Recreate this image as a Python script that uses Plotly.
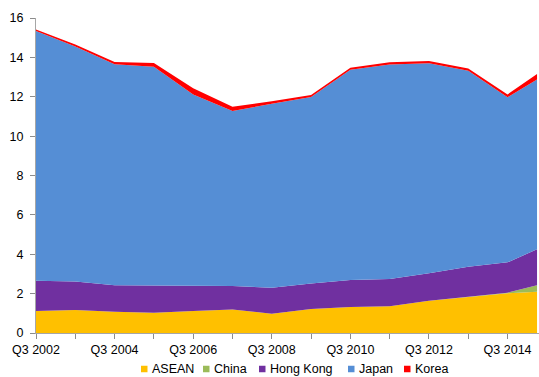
import plotly.graph_objects as go

# Quarter positions (years offset from Q3 2002); last point is Q2 2015
periods = ["Q3 2002", "Q3 2003", "Q3 2004", "Q3 2005", "Q3 2006", "Q3 2007", "Q3 2008",
           "Q3 2009", "Q3 2010", "Q3 2011", "Q3 2012", "Q3 2013", "Q3 2014", "Q2 2015"]
x_pos = [0, 1, 2, 3, 4, 5, 6, 7, 8, 9, 10, 11, 12, 12.75]

asean = [1.12, 1.17, 1.08, 1.03, 1.12, 1.20, 0.98, 1.22, 1.32, 1.36, 1.64, 1.84, 2.02, 2.10]
china = [0.0, 0.0, 0.0, 0.0, 0.0, 0.0, 0.0, 0.0, 0.0, 0.0, 0.0, 0.01, 0.03, 0.32]
hong_kong = [1.54, 1.44, 1.34, 1.39, 1.28, 1.19, 1.32, 1.30, 1.37, 1.38, 1.39, 1.52, 1.54, 1.83]
japan = [12.68, 11.94, 11.23, 11.11, 9.72, 8.88, 9.35, 9.47, 10.68, 10.90, 10.67, 9.95, 8.38, 8.63]
korea = [0.08, 0.10, 0.11, 0.18, 0.31, 0.22, 0.12, 0.10, 0.10, 0.11, 0.11, 0.12, 0.15, 0.27]

series = [
    ("ASEAN", asean, "#FFC000"),
    ("China", china, "#9BBB59"),
    ("Hong Kong", hong_kong, "#7030A0"),
    ("Japan", japan, "#558ED5"),
    ("Korea", korea, "#FF0000"),
]

tick_vals = list(range(0, 13))
tick_text = [f"Q3 {2002 + i}" if i % 2 == 0 else "" for i in tick_vals]

W, H = 539, 377
ML, MR, MT, MB = 36, 0, 18, 44
plot_w = W - ML - MR
plot_h = H - MT - MB

fig = go.Figure()
for name, vals, color in series:
    fig.add_trace(go.Scatter(
        x=x_pos, y=vals, name=name, stackgroup="one",
        mode="lines", line=dict(width=0, color=color),
        fillcolor=color, showlegend=False, hoverinfo="skip",
    ))

font_family = "Liberation Sans, Arial, sans-serif"
axis_font = dict(family=font_family, size=12.5, color="#000000")

# Legend row below the axis: small square key followed by its label
legend_key_px = [141, 203, 259, 348, 404]   # left edge of each key, in pixels
legend_y_px = 369
key = 6.5
shapes = []
annotations = []
for (name, _, color), kx in zip(series, legend_key_px):
    x0 = (kx - ML) / plot_w
    x1 = (kx + key - ML) / plot_w
    y0 = (H - MB - legend_y_px - key / 2) / plot_h
    y1 = (H - MB - legend_y_px + key / 2) / plot_h
    shapes.append(dict(type="rect", xref="paper", yref="paper", x0=x0, x1=x1, y0=y0, y1=y1,
                       fillcolor=color, line=dict(width=0)))
    annotations.append(dict(xref="paper", yref="paper",
                            x=(kx + key + 2.5 - ML) / plot_w,
                            y=(H - MB - legend_y_px) / plot_h,
                            xanchor="left", yanchor="middle", showarrow=False,
                            text=name, font=axis_font))

fig.update_layout(
    width=W, height=H,
    margin=dict(l=ML, r=MR, t=MT, b=MB),
    paper_bgcolor="white", plot_bgcolor="white",
    font=axis_font,
    showlegend=False,
    shapes=shapes,
    annotations=annotations,
    xaxis=dict(
        range=[0, 12.8], tickmode="array", tickvals=tick_vals, ticktext=tick_text,
        showgrid=False, zeroline=False, showline=True, linecolor="#A6A6A6", linewidth=1,
        ticks="outside", ticklen=5, tickcolor="#8C8C8C", tickfont=axis_font,
    ),
    yaxis=dict(
        range=[0, 16], dtick=2, showgrid=False, zeroline=False,
        showline=True, linecolor="#A6A6A6", linewidth=1,
        ticks="outside", ticklen=5, tickcolor="#8C8C8C", tickfont=axis_font,
        ticklabelstandoff=4,
    ),
)

fig.write_html("out.html")
